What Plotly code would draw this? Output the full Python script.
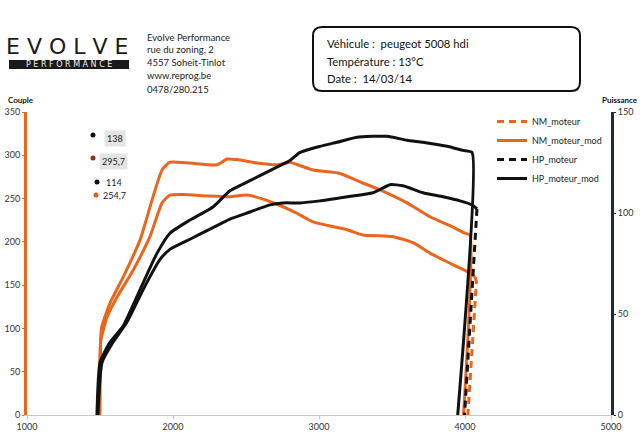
import plotly.graph_objects as go

# ---------------- data ----------------
rpm_nm_stock = [1495, 1505, 1548, 1616, 1726, 1842, 1925, 1979, 2068, 2233, 2390, 2507, 2644, 2733,
                2801, 2849, 2959, 3192, 3301, 3507, 3644, 3760, 3877, 4000, 4048, 4070, 4078, 4020]
nm_stock = [0, 85, 113, 136, 167, 206, 245, 254, 254.7, 253, 252, 254, 248, 242,
            237, 233, 223, 214, 208, 206, 199, 187, 177, 167, 162, 159, 154, 0]

rpm_nm_mod = [1500, 1505, 1512, 1568, 1658, 1774, 1863, 1925, 1979, 2116, 2301, 2370, 2438, 2575,
              2712, 2801, 2822, 2959, 3144, 3301, 3418, 3603, 3760, 3918, 4000, 4034, 3990]
nm_mod = [0, 90, 102, 129, 159, 202, 252, 283, 292, 291, 289, 295.7, 295, 291,
          289, 292, 291, 283, 279, 268, 260, 245, 229, 217, 210, 208, 0]

rpm_hp_stock = [1486, 1514, 1589, 1685, 1795, 1911, 1979, 2116, 2253, 2390, 2527, 2664, 2753, 2870,
                3007, 3192, 3370, 3486, 3575, 3712, 3849, 3966, 4048, 4082, 3997]
hp_stock = [0, 26, 36, 46, 62, 77, 82, 87, 92, 97, 100.5, 104, 105, 105,
            106, 108, 110, 114, 113.5, 110, 108, 106, 104, 102, 0]

rpm_hp_mod = [1479, 1500, 1568, 1658, 1774, 1890, 1979, 2116, 2274, 2390, 2527, 2664, 2801, 2870,
              3007, 3123, 3260, 3466, 3603, 3712, 3877, 3986, 4048, 3950]
hp_mod = [0, 26, 36, 44, 62, 80, 90, 96.5, 103, 111, 116, 121, 126, 130,
          133, 135, 137.5, 138, 136, 135, 133, 131, 130, 0]

torque_ticks = [0, 50, 100, 150, 200, 250, 300, 350]
power_ticks = [0, 50, 100, 150]
rpm_ticks = [1000, 2000, 3000, 4000, 5000]

peak_labels = ["138", "295,7", "114", "254,7"]

header_lines = ["Evolve Performance", "rue du zoning, 2", "4557 Soheit-Tinlot",
                "www.reprog.be", "0478/280.215"]
vehicle_lines = ["Véhicule :  peugeot 5008 hdi", "Température : 13°C", "Date :  14/03/14"]

# ---------------- style ----------------
ORANGE = "#E8661E"
BLACK = "#111111"
NAVY = "#1F2A44"
FONT = "Lato"
W, H = 640, 439
L, R, T, B = 27, 29, 112, 24
PW, PH = W - L - R, H - T - B


def px(x):
    return (x - L) / PW


def py(y):
    return (H - B - y) / PH


fig = go.Figure()

SM = dict(shape="spline", smoothing=0.5)
# split drop-off tail (dashed) from main part (solid, Excel-style short segments)
k_nm = 2
k_hp = 1
fig.add_trace(go.Scatter(x=rpm_nm_stock[:-k_nm], y=nm_stock[:-k_nm], mode="lines",
                         line=dict(color=ORANGE, width=3, **SM), showlegend=False, yaxis="y"))
fig.add_trace(go.Scatter(x=rpm_nm_stock[-k_nm - 1:], y=nm_stock[-k_nm - 1:], mode="lines",
                         name="NM_moteur", line=dict(color=ORANGE, width=3, dash="7px,5px"), yaxis="y"))
fig.add_trace(go.Scatter(x=rpm_nm_mod, y=nm_mod, mode="lines", name="NM_moteur_mod",
                         line=dict(color=ORANGE, width=3, **SM), yaxis="y"))
fig.add_trace(go.Scatter(x=rpm_hp_stock[:-k_hp], y=hp_stock[:-k_hp], mode="lines",
                         line=dict(color=BLACK, width=3, **SM), showlegend=False, yaxis="y2"))
fig.add_trace(go.Scatter(x=rpm_hp_stock[-k_hp - 1:], y=hp_stock[-k_hp - 1:], mode="lines",
                         name="HP_moteur", line=dict(color=BLACK, width=3, dash="7px,5px"), yaxis="y2"))
fig.add_trace(go.Scatter(x=rpm_hp_mod, y=hp_mod, mode="lines", name="HP_moteur_mod",
                         line=dict(color=BLACK, width=3, **SM), yaxis="y2"))

annotations = []
shapes = []


def note(x, y, text, size, color="#222", family=FONT, xanchor="left", **kw):
    d = dict(x=px(x), y=py(y), xref="paper", yref="paper", text=text, showarrow=False,
             xanchor=xanchor, yanchor="middle", font=dict(family=family, size=size, color=color))
    d.update(kw)
    annotations.append(d)


# logo
note(67, 47, "E V O L V E", 22, color="#1a1a1a", family="DejaVu Sans", xanchor="center")
shapes.append(dict(type="rect", xref="paper", yref="paper", x0=px(9), x1=px(129),
                   y0=py(69), y1=py(60), fillcolor="#1a1a1a", line=dict(width=0)))
note(69, 64.5, "P E R F O R M A N C E", 8, color="#f2f2f2", family="DejaVu Sans", xanchor="center")

# address block
for i, line in enumerate(header_lines):
    note(145, 37 + 13 * i, line, 9.5)

# vehicle box (rounded)
x0, x1 = px(313), px(580)
yt, yb = py(27), py(91)
rx, ry = 9 / PW, 9 / PH
path = (f"M {x0+rx},{yt} L {x1-rx},{yt} Q {x1},{yt} {x1},{yt-ry} L {x1},{yb+ry} "
        f"Q {x1},{yb} {x1-rx},{yb} L {x0+rx},{yb} Q {x0},{yb} {x0},{yb+ry} "
        f"L {x0},{yt-ry} Q {x0},{yt} {x0+rx},{yt} Z")
shapes.append(dict(type="path", xref="paper", yref="paper", path=path,
                   line=dict(color="#111", width=2)))
for i, line in enumerate(vehicle_lines):
    note(325, 44 + 17 * i, line, 11.3, color="#111")

# axis titles
note(6, 100, "<b>Couple</b>", 8, color="#111")
note(600, 100, "<b>Puissance</b>", 8, color="#111")

# peak labels
label_pos = [(93, 135, 104, "#111", "#e4e4e4"), (93, 158, 99, "#8f2d1a", "#e4e4e4"),
             (97, 182, 104, "#111", None), (96, 195, 101, "#d4622a", None)]
for txt, (dx, dy, tx, dc, bg) in zip(peak_labels, label_pos):
    shapes.append(dict(type="circle", xref="paper", yref="paper",
                       x0=px(dx - 2.5), x1=px(dx + 2.5), y0=py(dy + 2.5), y1=py(dy - 2.5),
                       fillcolor=dc, line=dict(width=0)))
    if bg:
        note(tx, dy + 3, txt, 9, bgcolor=bg, borderpad=2)
    else:
        note(tx, dy, txt, 9)

fig.update_layout(
    width=W, height=H,
    margin=dict(l=L, r=R, t=T, b=B, pad=0, autoexpand=False),
    paper_bgcolor="white", plot_bgcolor="white",
    font=dict(family=FONT, size=9, color="#333"),
    xaxis=dict(range=[1000, 5000], tickvals=rpm_ticks, showgrid=False, zeroline=False,
               showline=True, linecolor="#c8c8c8", linewidth=1, ticks="outside", ticklen=3,
               tickcolor="#c8c8c8", tickfont=dict(size=9, color="#333"), automargin=False),
    yaxis=dict(range=[0, 350], tickvals=torque_ticks, showgrid=False, zeroline=False,
               showline=True, linecolor=ORANGE, linewidth=3, ticks="outside", ticklen=2,
               tickcolor=ORANGE, tickfont=dict(size=9, color="#333"), automargin=False),
    yaxis2=dict(range=[0, 150], tickvals=power_ticks, overlaying="y", side="right",
                showgrid=False, zeroline=False, showline=True, linecolor=NAVY, linewidth=3,
                ticks="outside", ticklen=2, tickcolor=NAVY, tickfont=dict(size=9, color="#333"),
                automargin=False),
    legend=dict(x=px(492), y=py(107), xanchor="left", yanchor="top", bgcolor="rgba(0,0,0,0)",
                font=dict(family=FONT, size=9, color="#222"), itemwidth=30,
                tracegroupgap=4),
    annotations=annotations,
    shapes=shapes,
)

fig.write_html("out.html", config={"displayModeBar": False},
               post_script="document.body.style.margin='0';document.body.style.overflow='hidden';")
